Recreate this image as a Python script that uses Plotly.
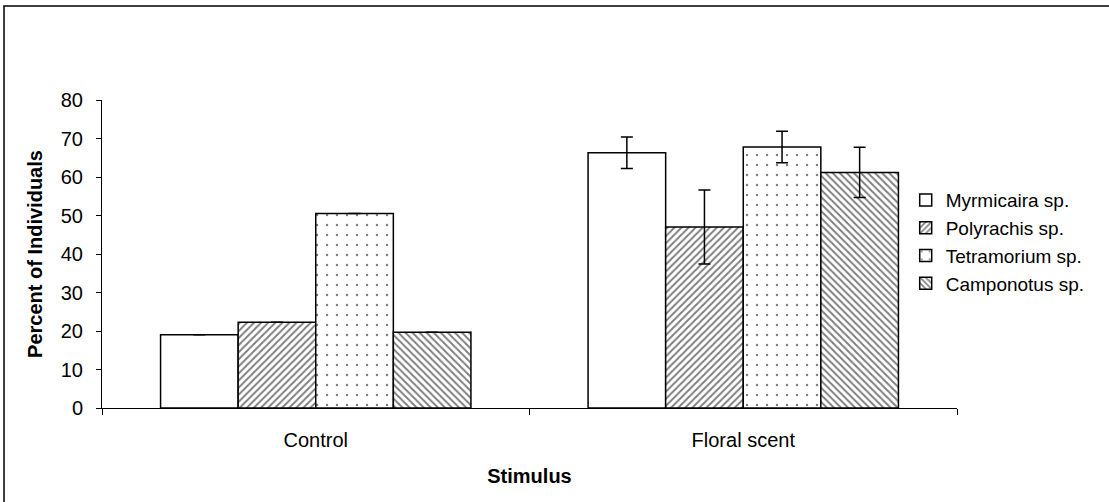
import plotly.graph_objects as go

categories = ["Control", "Floral scent"]
species = ["Myrmicaira sp.", "Polyrachis sp.", "Tetramorium sp.", "Camponotus sp."]
myrmicaira = [19.0, 66.3]
polyrachis = [22.3, 47.0]
tetramorium = [50.5, 67.8]
camponotus = [19.7, 61.2]
myrmicaira_err = [0.0, 4.1]
polyrachis_err = [0.0, 9.6]
tetramorium_err = [0.0, 4.1]
camponotus_err = [0.0, 6.5]

values = [myrmicaira, polyrachis, tetramorium, camponotus]
errors = [myrmicaira_err, polyrachis_err, tetramorium_err, camponotus_err]
patterns = [
    dict(shape=""),
    dict(shape="/", fgcolor="black", bgcolor="white", size=5, solidity=0.4),
    dict(shape=".", fgcolor="black", bgcolor="white", size=10, solidity=0.05),
    dict(shape="\\", fgcolor="black", bgcolor="white", size=5, solidity=0.4),
]

FONT = "Liberation Sans, Arial, sans-serif"
fig = go.Figure()
for name, v, e, p in zip(species, values, errors, patterns):
    fig.add_trace(go.Bar(
        name=name, x=categories, y=v,
        marker=dict(color="white", line=dict(color="black", width=1.5), pattern=p),
        error_y=dict(type="data", array=e, visible=True, color="black", thickness=1.5, width=6),
    ))

fig.update_layout(
    width=1109, height=502,
    paper_bgcolor="white", plot_bgcolor="white",
    margin=dict(l=102, r=152, t=100, b=94),
    barmode="group", bargap=0.274, bargroupgap=0,
    font=dict(family=FONT, size=20, color="black"),
    showlegend=True,
    legend=dict(x=0.940, y=0.54, xanchor="left", yanchor="middle",
                font=dict(size=19), bgcolor="rgba(0,0,0,0)", tracegroupgap=0,
                itemwidth=30),
    xaxis=dict(showline=True, linecolor="black", linewidth=1, ticks="outside",
               tickson="boundaries", ticklen=6, tickcolor="black",
               ticklabelstandoff=14,
               showgrid=False, zeroline=False,
               title=dict(text="<b>Stimulus</b>", font=dict(size=20), standoff=18)),
    yaxis=dict(range=[0, 80], dtick=10, showline=True, linecolor="black", linewidth=1,
               ticks="outside", ticklen=5, tickcolor="black", showgrid=False,
               ticklabelstandoff=9,
               zeroline=False,
               title=dict(text="<b>Percent of Individuals</b>", font=dict(size=20), standoff=12)),
    shapes=[dict(type="rect", xref="paper", yref="paper", x0=-0.1146, y0=-0.5,
                 x1=1.3, y1=1.305, line=dict(color="black", width=1.5), layer="below")],
)

fig.write_html("out.html", config={"displayModeBar": False},
               post_script="document.body.style.margin='0';")
